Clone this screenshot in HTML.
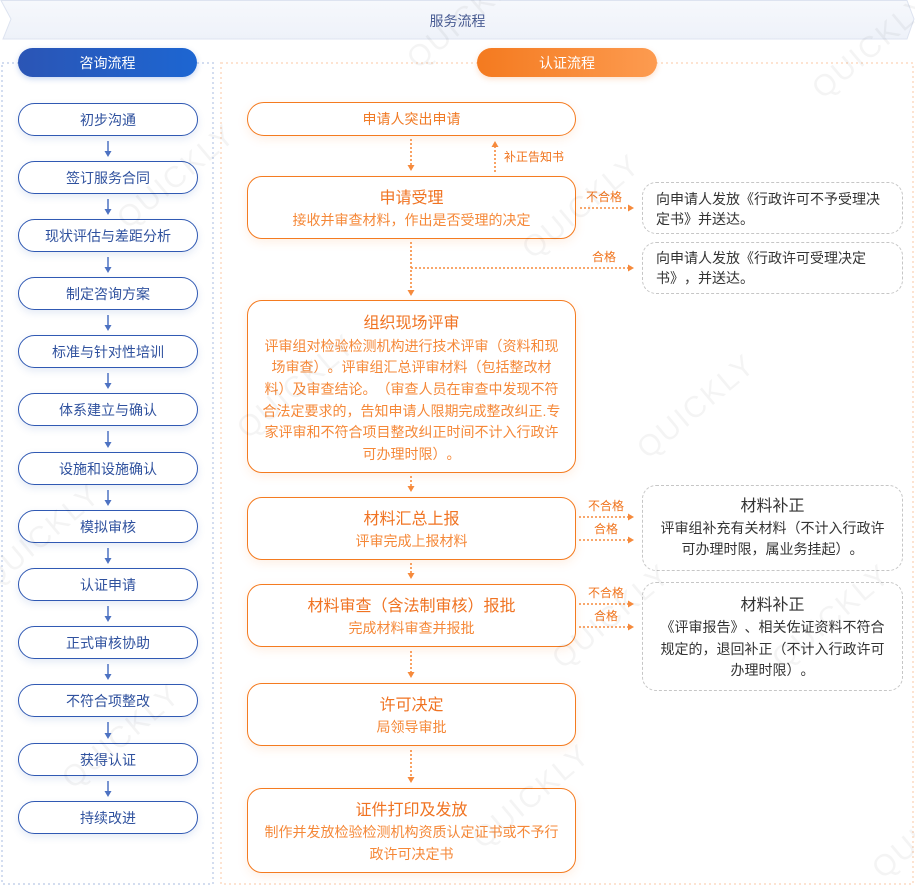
<!DOCTYPE html>
<html><head><meta charset="utf-8">
<style>
html,body{margin:0;padding:0;background:#fff;}
body{width:915px;height:886px;position:relative;overflow:hidden;font-family:"Liberation Sans","Noto Sans CJK SC",sans-serif;text-spacing-trim:space-all;font-feature-settings:"halt" 0,"chws" 0;}
.abs{position:absolute;box-sizing:border-box;}
.pill{position:absolute;height:29px;border-radius:15px;color:#fff;font-size:14px;display:flex;align-items:center;justify-content:center;}
.lb{position:absolute;left:18px;width:180px;height:33px;box-sizing:border-box;border:1.5px solid #3059b3;border-radius:17px;background:#fff;color:#2f519e;font-size:14px;display:flex;align-items:center;justify-content:center;box-shadow:0 3px 8px rgba(50,90,180,0.13);}
.ob{position:absolute;left:247px;width:329px;box-sizing:border-box;border:1.5px solid #f47b20;border-radius:15px;background:#fff;display:flex;flex-direction:column;align-items:center;justify-content:center;text-align:center;box-shadow:0 3px 10px rgba(245,130,50,0.13);padding-top:5px;}
.ob .t{font-size:16px;color:#f07322;line-height:22px;}
.ob .s{font-size:14px;color:#f58838;line-height:21.6px;}
.sb{position:absolute;left:642px;width:261px;box-sizing:border-box;border:1.5px dashed #c6c6c6;border-radius:14px;background:#fff;color:#333;font-size:14px;}
.lab{position:absolute;font-size:12px;color:#f0731c;line-height:14px;white-space:nowrap;}
.wm{position:absolute;font-size:30px;color:rgba(0,0,0,0.045);transform:rotate(-40deg);font-family:"Liberation Sans",sans-serif;letter-spacing:2px;white-space:nowrap;}
</style></head><body>

<svg class="abs" style="left:0;top:0" width="915" height="886">
  <defs>
    <linearGradient id="hg" x1="0" y1="0" x2="0" y2="1">
      <stop offset="0" stop-color="#f6f8fc"/><stop offset="1" stop-color="#eef2f9"/>
    </linearGradient>
  </defs>
  <polygon points="1,0.5 907,0.5 914,19 907,39 3,39 11,19" fill="url(#hg)" stroke="#dde3f0" stroke-width="1"/>
  <rect x="2" y="63" width="211" height="821" fill="none" stroke="#d3ddf0" stroke-width="2" stroke-dasharray="2 3"/>
  <rect x="221" y="63" width="692" height="821" fill="none" stroke="#fde3d1" stroke-width="2" stroke-dasharray="2 3"/>
</svg>

<div class="abs" style="left:0;top:11px;width:915px;text-align:center;font-size:14px;color:#4a5d94;line-height:20px;">服务流程</div>

<div class="pill" style="left:18px;top:48px;width:179px;background:linear-gradient(90deg,#2b55b5,#1d66d2);box-shadow:0 2px 6px rgba(30,90,200,0.25);">咨询流程</div>
<div class="pill" style="left:477px;top:48px;width:180px;background:linear-gradient(90deg,#f47a1f,#fd9b50);box-shadow:0 2px 6px rgba(245,130,50,0.25);">认证流程</div>

<!-- left column -->
<div class="lb" style="top:103px">初步沟通</div>
<div class="lb" style="top:161px">签订服务合同</div>
<div class="lb" style="top:219px">现状评估与差距分析</div>
<div class="lb" style="top:277px">制定咨询方案</div>
<div class="lb" style="top:335px">标准与针对性培训</div>
<div class="lb" style="top:393px">体系建立与确认</div>
<div class="lb" style="top:452px">设施和设施确认</div>
<div class="lb" style="top:510px">模拟审核</div>
<div class="lb" style="top:568px">认证申请</div>
<div class="lb" style="top:626px">正式审核协助</div>
<div class="lb" style="top:684px">不符合项整改</div>
<div class="lb" style="top:743px">获得认证</div>
<div class="lb" style="top:801px">持续改进</div>

<!-- right column -->
<div class="ob" style="top:102px;height:34px;border-radius:17px;padding-top:1px;"><div class="s" style="color:#f07a25;">申请人突出申请</div></div>
<div class="ob" style="top:176px;height:63px;"><div class="t">申请受理</div><div class="s">接收并审查材料，作出是否受理的决定</div></div>
<div class="ob" style="top:300px;height:173px;"><div class="t" style="margin-bottom:1px">组织现场评审</div><div class="s">评审组对检验检测机构进行技术评审（资料和现<br>场审查）。评审组汇总评审材料（包括整改材<br>料）及审查结论。（审查人员在审查中发现不符<br>合法定要求的，告知申请人限期完成整改纠正.专<br>家评审和不符合项目整改纠正时间不计入行政许<br>可办理时限）。</div></div>
<div class="ob" style="top:497px;height:63px;"><div class="t">材料汇总上报</div><div class="s">评审完成上报材料</div></div>
<div class="ob" style="top:584px;height:63px;"><div class="t">材料审查（含法制审核）报批</div><div class="s">完成材料审查并报批</div></div>
<div class="ob" style="top:683px;height:63px;"><div class="t">许可决定</div><div class="s">局领导审批</div></div>
<div class="ob" style="top:788px;height:85px;"><div class="t">证件打印及发放</div><div class="s">制作并发放检验检测机构资质认定证书或不予行<br>政许可决定书</div></div>

<!-- side boxes -->
<div class="sb" style="top:182px;height:52px;padding:7px 0 0 13px;line-height:19.5px;">向申请人发放《行政许可不予受理决<br>定书》并送达。</div>
<div class="sb" style="top:242px;height:52px;padding:6px 0 0 13px;line-height:19.5px;">向申请人发放《行政许可受理决定<br>书》，并送达。</div>
<div class="sb" style="top:485px;height:86px;text-align:center;padding-top:10px;line-height:20.5px;"><div style="font-size:16px;line-height:22px;">材料补正</div>评审组补充有关材料（不计入行政许<br>可办理时限，属业务挂起）。</div>
<div class="sb" style="top:582px;height:109px;text-align:center;padding-top:12px;line-height:21.5px;"><div style="font-size:16px;line-height:22px;">材料补正</div>《评审报告》、相关佐证资料不符合<br>规定的，退回补正（不计入行政许可<br>办理时限）。</div>

<!-- labels -->
<div class="lab" style="left:504px;top:150px;">补正告知书</div>
<div class="lab" style="left:586px;top:190px;">不合格</div>
<div class="lab" style="left:592px;top:250px;">合格</div>
<div class="lab" style="left:588px;top:499px;">不合格</div>
<div class="lab" style="left:594px;top:522px;">合格</div>
<div class="lab" style="left:588px;top:586px;">不合格</div>
<div class="lab" style="left:594px;top:609px;">合格</div>

<!-- watermarks -->
<div class="wm" style="left:395px;top:0px;">QUICKLY</div>
<div class="wm" style="left:800px;top:30px;">QUICKLY</div>
<div class="wm" style="left:105px;top:160px;">QUICKLY</div>
<div class="wm" style="left:510px;top:190px;">QUICKLY</div>
<div class="wm" style="left:225px;top:370px;">QUICKLY</div>
<div class="wm" style="left:625px;top:390px;">QUICKLY</div>
<div class="wm" style="left:-30px;top:520px;">QUICKLY</div>
<div class="wm" style="left:540px;top:600px;">QUICKLY</div>
<div class="wm" style="left:760px;top:600px;">QUICKLY</div>
<div class="wm" style="left:50px;top:720px;">QUICKLY</div>
<div class="wm" style="left:460px;top:780px;">QUICKLY</div>
<div class="wm" style="left:860px;top:810px;">QUICKLY</div>

<svg class="abs" style="left:0;top:0" width="915" height="886">
  <g stroke="#4d72c2" stroke-width="1.5" fill="#4d72c2">
    <line x1="108" y1="141" x2="108" y2="152"/><polygon points="104.5,151 111.5,151 108,157" stroke="none"/>
    <line x1="108" y1="199" x2="108" y2="210"/><polygon points="104.5,209 111.5,209 108,215" stroke="none"/>
    <line x1="108" y1="257" x2="108" y2="268"/><polygon points="104.5,267 111.5,267 108,273" stroke="none"/>
    <line x1="108" y1="315" x2="108" y2="326"/><polygon points="104.5,325 111.5,325 108,331" stroke="none"/>
    <line x1="108" y1="373" x2="108" y2="384"/><polygon points="104.5,383 111.5,383 108,389" stroke="none"/>
    <line x1="108" y1="431" x2="108" y2="443"/><polygon points="104.5,442 111.5,442 108,448" stroke="none"/>
    <line x1="108" y1="490" x2="108" y2="501"/><polygon points="104.5,500 111.5,500 108,506" stroke="none"/>
    <line x1="108" y1="548" x2="108" y2="559"/><polygon points="104.5,558 111.5,558 108,564" stroke="none"/>
    <line x1="108" y1="606" x2="108" y2="617"/><polygon points="104.5,616 111.5,616 108,622" stroke="none"/>
    <line x1="108" y1="664" x2="108" y2="675"/><polygon points="104.5,674 111.5,674 108,680" stroke="none"/>
    <line x1="108" y1="722" x2="108" y2="734"/><polygon points="104.5,733 111.5,733 108,739" stroke="none"/>
    <line x1="108" y1="781" x2="108" y2="792"/><polygon points="104.5,791 111.5,791 108,797" stroke="none"/>
  </g>
  <g stroke="#f68a3c" stroke-width="1.6" fill="#f68a3c" stroke-dasharray="2 2">
    <line x1="411" y1="139" x2="411" y2="166"/>
    <line x1="495" y1="172" x2="495" y2="146"/>
    <line x1="411" y1="242" x2="411" y2="291"/>
    <line x1="411" y1="268" x2="629" y2="268"/>
    <line x1="580" y1="208" x2="629" y2="208"/>
    <line x1="411" y1="476" x2="411" y2="487"/>
    <line x1="411" y1="563" x2="411" y2="574"/>
    <line x1="411" y1="651" x2="411" y2="673"/>
    <line x1="411" y1="750" x2="411" y2="778"/>
    <line x1="579" y1="517" x2="629" y2="517"/>
    <line x1="579" y1="540" x2="629" y2="540"/>
    <line x1="579" y1="604" x2="629" y2="604"/>
    <line x1="579" y1="627" x2="629" y2="627"/>
  </g>
  <g fill="#f68a3c">
    <polygon points="407.5,165 414.5,165 411,171"/>
    <polygon points="491.5,147 498.5,147 495,141"/>
    <polygon points="407.5,290 414.5,290 411,296"/>
    <polygon points="407.5,486 414.5,486 411,492"/>
    <polygon points="407.5,573 414.5,573 411,579"/>
    <polygon points="407.5,672 414.5,672 411,678"/>
    <polygon points="407.5,777 414.5,777 411,783"/>
    <polygon points="628,204.5 628,211.5 634,208"/>
    <polygon points="628,264.5 628,271.5 634,268"/>
    <polygon points="628,513.5 628,520.5 634,517"/>
    <polygon points="628,536.5 628,543.5 634,540"/>
    <polygon points="628,600.5 628,607.5 634,604"/>
    <polygon points="628,623.5 628,630.5 634,627"/>
  </g>
</svg>

</body></html>
